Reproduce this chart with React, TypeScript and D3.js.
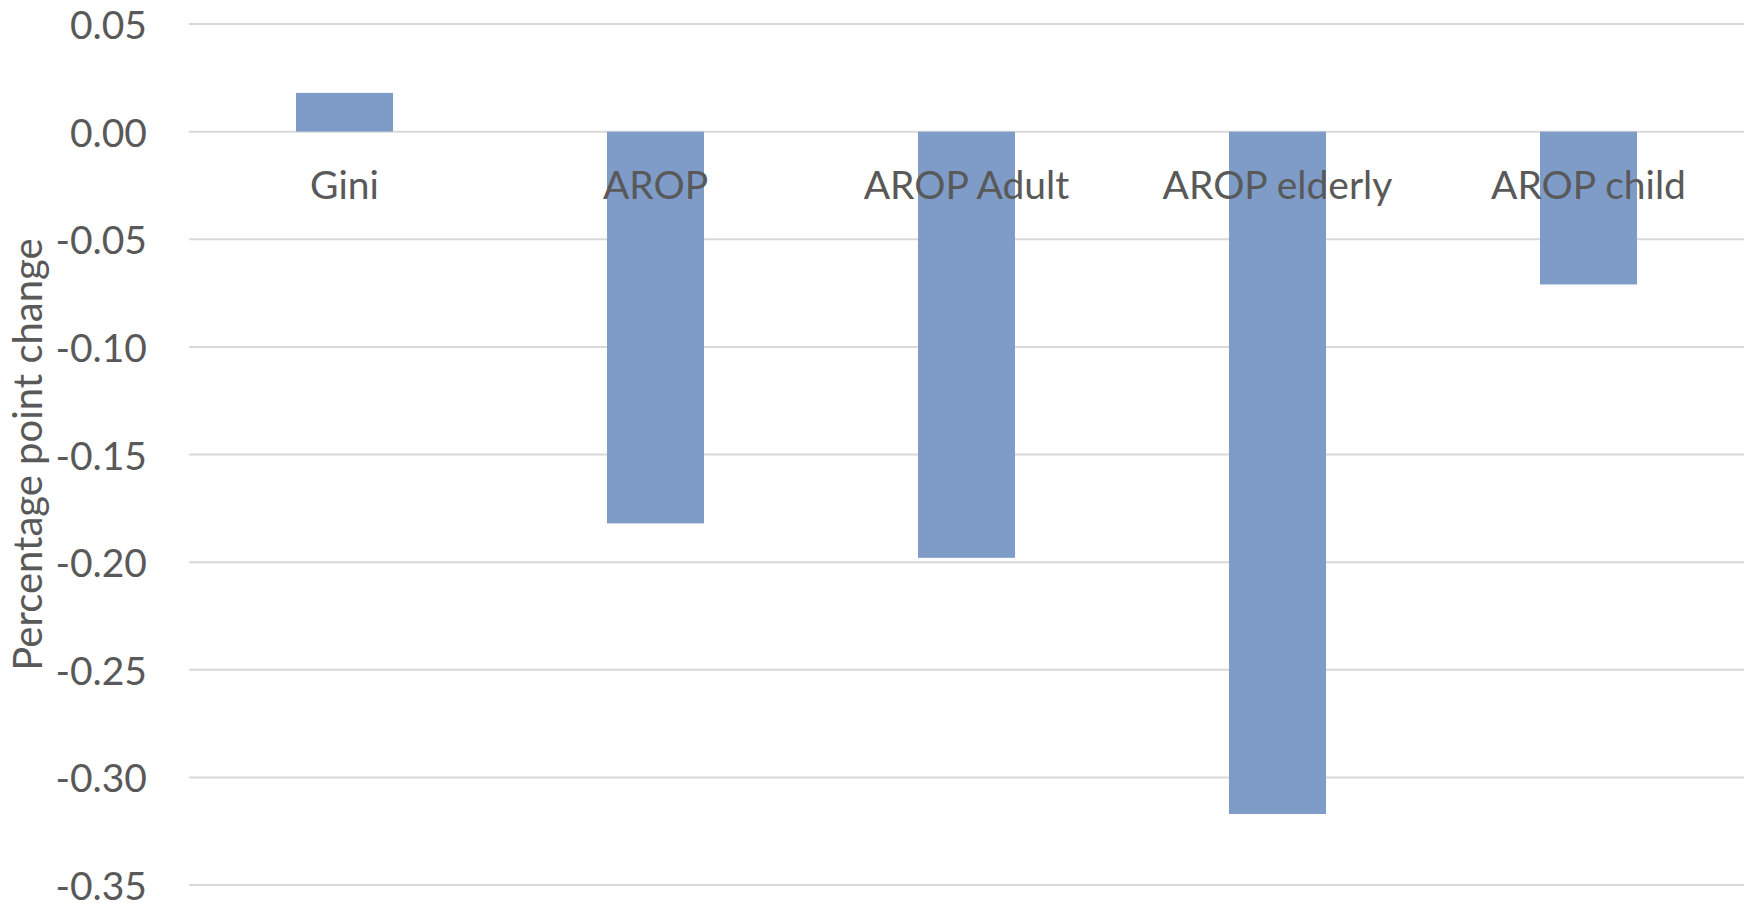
import React from "react";
import * as d3 from "d3";

// Change in inequality / poverty indicators
const categories: string[] = ["Gini", "AROP", "AROP Adult", "AROP elderly", "AROP child"];
const changes: number[] = [0.018, -0.182, -0.198, -0.317, -0.071];
const yTicks: number[] = [0.05, 0.0, -0.05, -0.1, -0.15, -0.2, -0.25, -0.3, -0.35];
const yTitle = "Percentage point change";

const WIDTH = 1748;
const HEIGHT = 904;
const FONT = "Lato, 'Open Sans', sans-serif";
const TEXT = "#595959";
const GRID = "#d9d9d9";
const BAR = "#7f9cc9";

// two decimals with a plain hyphen for negatives
const fmtBase = d3.format(".2f");
const fmt = (v: number) => (Math.abs(v) < 1e-9 ? "0.00" : fmtBase(v).replace("\u2212", "-"));

export default function App() {
  const plot = { left: 189, right: 1744, top: 24, bottom: 885 };

  const y = d3.scaleLinear().domain([-0.35, 0.05]).range([plot.bottom, plot.top]);
  const x = d3
    .scaleBand<string>()
    .domain(categories)
    .range([plot.left, plot.right])
    .paddingInner(0.688)
    .paddingOuter(0.344);

  return (
    <svg
      width={WIDTH}
      height={HEIGHT}
      style={{ position: "absolute", left: 0, top: 0, background: "#fff" }}
      fontFamily={FONT}
    >
      {/* horizontal gridlines */}
      {yTicks.map((t) => (
        <line
          key={`g${t}`}
          x1={plot.left}
          x2={plot.right}
          y1={y(t)}
          y2={y(t)}
          stroke={GRID}
          strokeWidth={2}
        />
      ))}

      {/* bars */}
      {categories.map((c, i) => {
        const v = changes[i];
        const y0 = y(0);
        const y1 = y(v);
        return (
          <rect
            key={c}
            x={x(c)!}
            width={x.bandwidth()}
            y={Math.min(y0, y1)}
            height={Math.abs(y1 - y0)}
            fill={BAR}
          />
        );
      })}

      {/* y tick labels */}
      {yTicks.map((t) => (
        <text
          key={`t${t}`}
          x={147}
          y={y(t)}
          textAnchor="end"
          dominantBaseline="central"
          fontSize={39}
          fill={TEXT}
        >
          {fmt(t)}
        </text>
      ))}

      {/* category labels, placed just under the zero line */}
      {categories.map((c) => (
        <text
          key={`l${c}`}
          x={x(c)! + x.bandwidth() / 2}
          y={y(0) + 67}
          textAnchor="middle"
          fontSize={39}
          fill={TEXT}
        >
          {c}
        </text>
      ))}

      {/* axis title */}
      <text
        transform={`translate(42, ${(plot.top + plot.bottom) / 2}) rotate(-90)`}
        textAnchor="middle"
        fontSize={40}
        fill={TEXT}
      >
        {yTitle}
      </text>
    </svg>
  );
}
